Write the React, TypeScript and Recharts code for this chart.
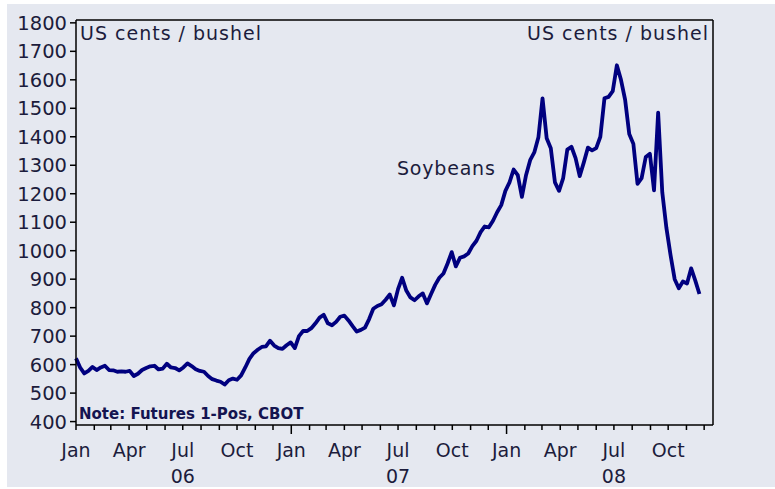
import React from "react";
import { Line, LineChart, XAxis, YAxis } from "recharts";

document.body.style.margin = "0";

// weekly soybean futures (US cents / bushel)
const soy2006 = [
  622, 590, 569, 578, 592, 581, 590, 596, 581, 580, 575, 576, 575,
  578, 560, 568, 581, 588, 594, 596, 583, 586, 603, 590, 588, 580,
  590, 604, 595, 584, 578, 575, 560, 549, 544, 540, 530, 545, 551,
  547, 562, 590, 620, 640, 652, 662, 664, 684, 667, 658, 655, 668,
];
const soy2007 = [
  678, 658, 700, 718, 718, 728, 745, 765, 775, 745, 738, 750, 768,
  772, 755, 735, 716, 722, 730, 760, 796, 806, 812, 828, 846, 808,
  865, 905, 860, 836, 826, 840, 850, 815, 848, 880, 905, 920, 955,
  995, 945, 975, 980, 990, 1016, 1035, 1065, 1085, 1082, 1105, 1135, 1160,
];
const soy2008 = [
  1210, 1240, 1285, 1265, 1189, 1265, 1318, 1345, 1398, 1535, 1395, 1360,
  1240, 1210, 1255, 1355, 1365, 1325, 1262, 1310, 1362, 1352, 1360, 1400,
  1535, 1540, 1560, 1651, 1600, 1530, 1410, 1375, 1235, 1255, 1329, 1340,
  1212, 1485, 1205, 1080, 985, 900, 868, 892, 885, 938, 895, 848,
];

const monthNames = ["Jan", "Feb", "Mar", "Apr", "May", "Jun", "Jul", "Aug", "Sep", "Oct", "Nov", "Dec"];
const yearLabels = ["06", "07", "08"];
const yTicks = [400, 500, 600, 700, 800, 900, 1000, 1100, 1200, 1300, 1400, 1500, 1600, 1700, 1800];

const DAY = 86400000;
const origin = Date.UTC(2006, 0, 1);
const monthTicks = Array.from({ length: 36 }, (_, m) => (Date.UTC(2006, m, 1) - origin) / DAY);
const xEnd = (Date.UTC(2008, 11, 16) - origin) / DAY;

const data = [...soy2006, ...soy2007, ...soy2008].map((price, w) => ({ day: w * 7, price }));

const INK = "#1c1c3c";
const FONT = "DejaVu Sans";

function MonthTick(props: any) {
  const { x, y, payload } = props;
  const i = monthTicks.indexOf(payload.value);
  const major = i > 0 && i % 12 === 0;
  return (
    <g>
      <line x1={x} x2={x} y1={y} y2={y + (major ? 9 : 5)} stroke="#000" strokeWidth={1.5} />
      {i % 3 === 0 && (
        <text x={x} y={y + 32} textAnchor="middle" fontSize={19} fill={INK} fontFamily={FONT}>
          {monthNames[i % 12]}
        </text>
      )}
      {i % 12 === 6 && (
        <text x={x} y={y + 58} textAnchor="middle" fontSize={19} fill={INK} fontFamily={FONT}>
          {yearLabels[Math.floor(i / 12)]}
        </text>
      )}
    </g>
  );
}

export default function App() {
  return (
    <div style={{ position: "relative", width: 775, height: 489, background: "#fff", overflow: "hidden" }}>
      <div style={{ position: "absolute", left: 7, top: 4, width: 768, height: 483, background: "#e5e8f0" }} />
      <div style={{ position: "absolute", left: 0, top: 0 }}>
        <LineChart width={775} height={489} data={data} margin={{ top: 20, right: 0, bottom: 0, left: 0 }} style={{ fontFamily: FONT }}>
          <XAxis
            dataKey="day"
            type="number"
            domain={[0, xEnd]}
            ticks={monthTicks}
            interval={0}
            tick={<MonthTick />}
            tickLine={false}
            tickSize={0}
            tickMargin={0}
            height={64}
            axisLine={{ stroke: "#000", strokeWidth: 1.5 }}
          />
          <YAxis
            yAxisId="left"
            domain={[388, 1810]}
            ticks={yTicks}
            interval={0}
            width={76}
            tickSize={6}
            tickMargin={3}
            tick={{ fill: INK, fontSize: 19.5 }}
            tickLine={{ stroke: "#000", strokeWidth: 1.5 }}
            axisLine={{ stroke: "#000", strokeWidth: 1.5 }}
          />
          <YAxis
            yAxisId="right"
            orientation="right"
            domain={[388, 1810]}
            ticks={yTicks}
            interval={0}
            width={62}
            tickSize={4}
            tickMargin={9}
            tick={{ fill: INK, fontSize: 19.5, textAnchor: "start" }}
            tickLine={{ stroke: "#000", strokeWidth: 1.5 }}
            axisLine={{ stroke: "#000", strokeWidth: 1.5 }}
          />
          <Line
            yAxisId="left"
            dataKey="price"
            type="linear"
            stroke="#00007f"
            strokeWidth={3.8}
            strokeLinejoin="round"
            dot={false}
            isAnimationActive={false}
          />
        </LineChart>
      </div>
      <svg width={775} height={489} style={{ position: "absolute", left: 0, top: 0, pointerEvents: "none" }} fontFamily={FONT}>
        <line x1={76} x2={713} y1={20} y2={20} stroke="#000" strokeWidth={1.5} />
        <text x={80} y={40} fontSize={19} fill={INK} letterSpacing={1}>US cents / bushel</text>
        <text x={709} y={40} fontSize={19} fill={INK} letterSpacing={1} textAnchor="end">US cents / bushel</text>
        <text x={397} y={175} fontSize={19} fill={INK} letterSpacing={0.8}>Soybeans</text>
        <text x={79} y={419} fontSize={15} fontWeight="bold" fill="#141450">Note: Futures 1-Pos, CBOT</text>
      </svg>
    </div>
  );
}
